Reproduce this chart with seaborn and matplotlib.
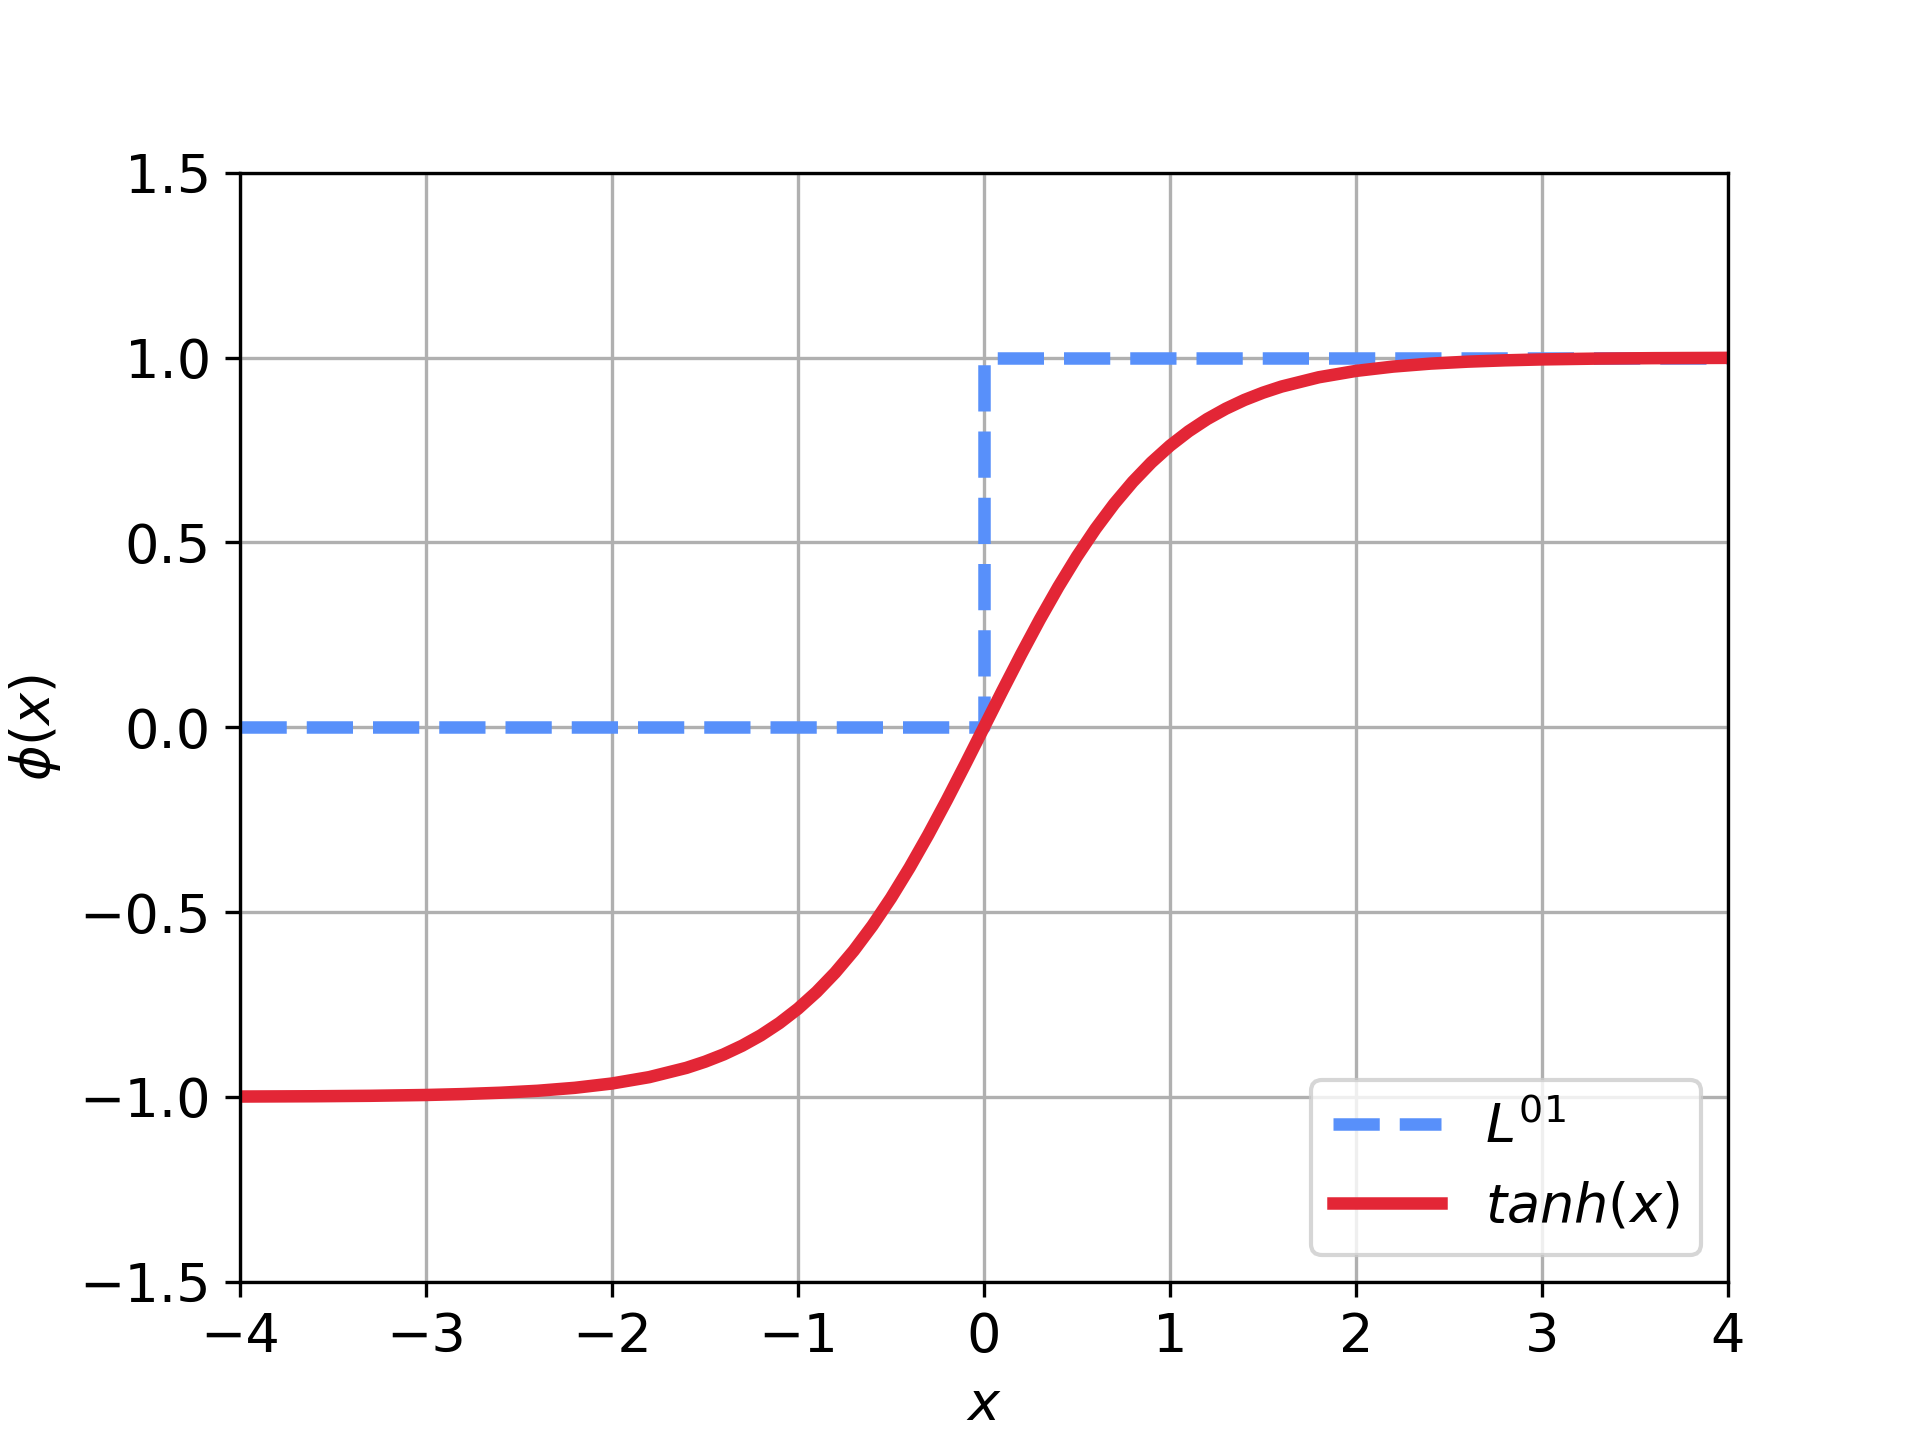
import matplotlib
matplotlib.use("Agg")
import matplotlib.pyplot as plt
import seaborn as sns
import pandas as pd

# step function L01
step_x = [-4, 0, 0, 4]
step_y = [0, 0, 1, 1]

# tanh curve, values
curve_x = [-4.0, -3.6, -3.3, -3.0, -2.8, -2.6, -2.4, -2.2, -2.0, -1.8,
           -1.6, -1.5, -1.4, -1.3, -1.2, -1.1, -1.0, -0.9, -0.8, -0.7,
           -0.6, -0.5, -0.4, -0.3, -0.2, -0.1, 0.0,
           0.1, 0.2, 0.3, 0.4, 0.5, 0.6, 0.7, 0.8, 0.9, 1.0,
           1.1, 1.2, 1.3, 1.4, 1.5, 1.6, 1.8, 2.0, 2.2, 2.4,
           2.6, 2.8, 3.0, 3.3, 3.6, 4.0]
curve_y = [-0.9993, -0.9985, -0.9973, -0.9951, -0.9926, -0.9890, -0.9837, -0.9757, -0.9640, -0.9468,
           -0.9217, -0.9051, -0.8854, -0.8617, -0.8337, -0.8005, -0.7616, -0.7163, -0.6640, -0.6044,
           -0.5370, -0.4621, -0.3799, -0.2913, -0.1974, -0.0997, 0.0,
           0.0997, 0.1974, 0.2913, 0.3799, 0.4621, 0.5370, 0.6044, 0.6640, 0.7163, 0.7616,
           0.8005, 0.8337, 0.8617, 0.8854, 0.9051, 0.9217, 0.9468, 0.9640, 0.9757, 0.9837,
           0.9890, 0.9926, 0.9951, 0.9973, 0.9985, 0.9993]

x_ticks = [-4, -3, -2, -1, 0, 1, 2, 3, 4]
y_ticks = [-1.5, -1.0, -0.5, 0.0, 0.5, 1.0, 1.5]

plt.rcParams['font.size'] = 13

step_df = pd.DataFrame({'x': step_x, 'y': step_y})
curve_df = pd.DataFrame({'x': curve_x, 'y': curve_y})

fig, ax = plt.subplots(figsize=(6.4, 4.8), dpi=300)

sns.lineplot(data=step_df, x='x', y='y', ax=ax, estimator=None, sort=False,
             color='#5890FA', linewidth=3, linestyle='--', label='$L^{01}$')
sns.lineplot(data=curve_df, x='x', y='y', ax=ax, estimator=None, sort=False,
             color='#E32636', linewidth=3, label='$tanh(x)$')

ax.set_xlim(-4, 4)
ax.set_ylim(-1.5, 1.5)
ax.set_xticks(x_ticks)
ax.set_yticks(y_ticks)
ax.grid(True)
ax.set_axisbelow(True)
ax.set_xlabel('$x$')
ax.set_ylabel(r'$\phi(x)$')
ax.legend(loc='lower right')

fig.savefig('out.png', dpi=300)
